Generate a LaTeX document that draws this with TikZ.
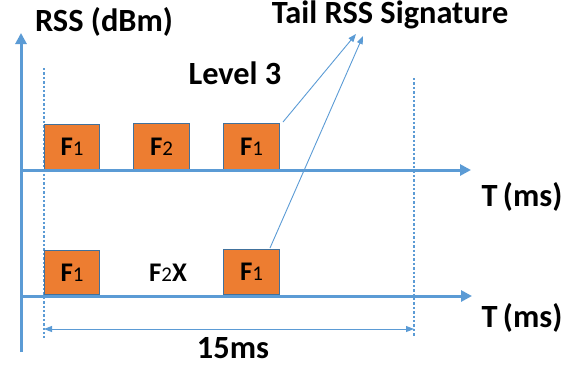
\documentclass[tikz,border=0pt]{standalone}
\usepackage{fontspec}
\setmainfont{Carlito}
\usetikzlibrary{arrows.meta}
\definecolor{axblue}{HTML}{5B9BD5}
\definecolor{boxorange}{HTML}{ED7D31}
\definecolor{boxedge}{HTML}{41719C}
\newcommand{\sbs}[1]{{\fontsize{21}{21}\selectfont\mdseries #1}}
\begin{document}
\begin{tikzpicture}[x=1bp,y=-1bp,
  axis/.style={draw=axblue,line width=3bp,-{Triangle[length=11bp,width=11bp]}},
  guide/.style={draw=axblue,line width=2.8bp,dash pattern=on 2.4bp off 2bp},
  pointer/.style={draw=axblue,line width=0.9bp,-{Triangle[length=8bp,width=6bp]}},
  dimarrow/.style={draw=axblue,line width=0.9bp,{Triangle[length=8bp,width=6bp]}-{Triangle[length=8bp,width=6bp]}},
  frame/.style={draw=boxedge,fill=boxorange,line width=1bp,minimum width=55bp,anchor=south west,inner sep=0pt,font=\fontsize{27}{27}\selectfont\bfseries},
  label/.style={font=\fontsize{32.5}{32.5}\selectfont\bfseries,inner sep=0pt}]
\useasboundingbox (0,0) rectangle (576,368);
% coordinates
\coordinate (vbot) at (21,352);
\coordinate (vtop) at (21,33);
\coordinate (h1s) at (21,170);
\coordinate (h1e) at (471,170);
\coordinate (h2s) at (21,296);
\coordinate (h2e) at (472,296);
\coordinate (d1t) at (44,68);
\coordinate (d1b) at (44,338);
\coordinate (d2t) at (414,78);
\coordinate (d2b) at (414,336);
% guides
\draw[guide] (d1t) -- (d1b);
\draw[guide] (d2t) -- (d2b);
% boxes
\node[frame,minimum height=45bp] (a1) at (44,170) {F\sbs{1}};
\node[frame,minimum height=46bp,minimum width=56bp] (a2) at (133,170) {F\sbs{2}};
\node[frame,minimum height=46bp,minimum width=56bp] (a3) at (223,170) {F\sbs{1}};
\node[frame,minimum height=44bp] (b1) at (44,295) {F\sbs{1}};
\node[frame,minimum height=45bp,minimum width=56bp] (b3) at (223,295) {F\sbs{1}};
\node[font=\fontsize{27}{27}\selectfont\bfseries,inner sep=0pt] (b2) at (168,273) {F\sbs{2}X};
% axes
\draw[axis] (vbot) -- (vtop);
\draw[axis] (h1s) -- (h1e);
\draw[axis] (h2s) -- (h2e);
% labels
\node[label] (rss) at (104,22) {RSS (dBm)};
\node[label] (lvl) at (235,73) {Level 3};
\node[label] (tail) at (390,15) {Tail RSS Signature};
\node[label] (t1) at (522,197) {T\,(ms)};
\node[label] (t2) at (522,318) {T\,(ms)};
\node[label] (dur) at (233,348) {15ms};
% pointers
\coordinate (p1s) at (283,122);
\coordinate (p1e) at (356,34);
\coordinate (p2s) at (270,248);
\coordinate (p2e) at (363,36);
\draw[pointer] (p1s) -- (p1e);
\draw[pointer] (p2s) -- (p2e);
% dimension
\coordinate (m1) at (44,329);
\coordinate (m2) at (414,329);
\draw[dimarrow] (m1) -- (m2);
\end{tikzpicture}
\end{document}
